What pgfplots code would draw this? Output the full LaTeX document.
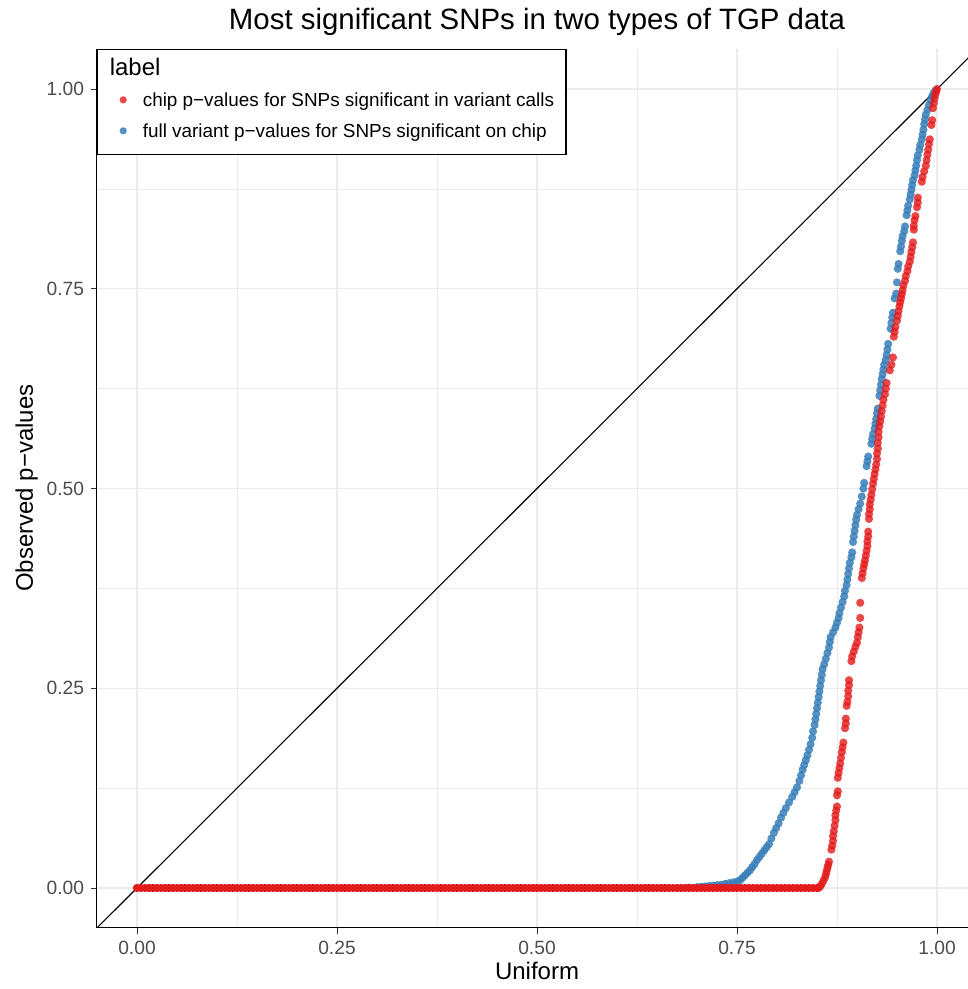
\documentclass[border=0pt]{standalone}
\usepackage{fontspec}
\setmainfont{Liberation Sans}
\usepackage{pgfplots}
\pgfplotsset{compat=1.18}
\definecolor{setred}{HTML}{E41A1C}
\definecolor{setblue}{HTML}{377EB8}
\definecolor{gridgray}{HTML}{EBEBEB}
\definecolor{tickgray}{HTML}{4D4D4D}
\definecolor{tickmark}{HTML}{333333}
\pgfplotsset{
  ggpt/.style={only marks, mark=*, mark size=2.05bp,
    legend image code/.code={\path (-6.5bp,0bp) (9.5bp,0bp); \draw[##1, mark size=1.8bp] plot coordinates {(0bp,1.2bp)};}},
}
\begin{document}
\begin{tikzpicture}
\begin{axis}[
  scale only axis, width=435.5bp, height=439.5bp,
  xmin=-0.05, xmax=1.03875, ymin=-0.05006, ymax=1.0501,
  axis x line*=bottom, axis y line*=left,
  axis line style={-, black, line width=0.5bp},
  xtick={0,0.25,0.5,0.75,1}, ytick={0,0.25,0.5,0.75,1},
  xticklabels={0.00,0.25,0.50,0.75,1.00},
  yticklabels={0.00,0.25,0.50,0.75,1.00},
  minor xtick={0.125,0.375,0.625,0.875},
  minor ytick={0.125,0.375,0.625,0.875},
  grid=both,
  major grid style={gridgray, line width=0.55bp},
  minor grid style={gridgray, line width=0.3bp},
  tick align=outside, major tick length=3bp, minor tick length=0pt,
  tick style={tickmark, line width=0.5bp},
  ticklabel style={font=\fontsize{9.6bp}{11bp}\selectfont, text=tickgray},
  /pgf/number format/assume math mode=true,
  every axis title shift=0pt,
  title={Most significant SNPs in two types of TGP data},
  title style={font=\fontsize{14.7bp}{17bp}\selectfont, anchor=base, at={(axis description cs:0.50517,1.02162)}},
  xlabel={Uniform},
  xlabel style={font=\fontsize{12bp}{14bp}\selectfont, anchor=base, at={(axis description cs:0.50517,-0.05916)}},
  ylabel={Observed p−values},
  ylabel style={font=\fontsize{12bp}{14bp}\selectfont, anchor=base, at={(axis description cs:-0.07348,0.50057)}},
  legend cell align=left,
  legend style={at={(axis description cs:0,1)}, anchor=north west, draw=black, line width=0.6bp, fill=white,
    inner xsep=6bp, inner ysep=3.075bp, row sep=0bp, column sep=0bp,
    font=\fontsize{9.45bp}{11bp}\selectfont, cells={anchor=west},
    nodes={inner sep=0bp, text height=9.925bp, text depth=5.575bp}},
  reverse legend,
]
% blue: full variant p-values (baseline part, mostly hidden)
\addplot[ggpt, forget plot, mark options={fill=setblue, draw opacity=0, fill opacity=0.85}] coordinates {
(0,0)(0.02,0)(0.04,0)(0.06,0)(0.08,0)(0.1,0)(0.12,0)(0.14,0)(0.16,0)(0.18,0)
(0.2,0)(0.22,0)(0.24,0)(0.26,0)(0.28,0)(0.3,0)(0.32,0)(0.34,0)(0.36,0)(0.38,0)
(0.4,0)(0.42,0)(0.44,0)(0.46,0)(0.48,0)(0.5,0)(0.52,0)(0.54,0)(0.56,0)(0.58,0)
(0.6,0)(0.62,0)(0.64,0)(0.66,0)(0.68,0)
};
\addplot[ggpt, mark options={fill=setblue, draw opacity=0, fill opacity=0.85}] coordinates {
(0.690,0.0005)(0.700,0.001)(0.705,0.0015)(0.710,0.002)(0.715,0.0025)(0.720,0.003)(0.725,0.0035)(0.730,0.004)
(0.735,0.005)(0.740,0.006)(0.745,0.007)(0.750,0.008)(0.754,0.010)(0.757,0.013)(0.760,0.016)(0.763,0.019)
(0.766,0.022)(0.769,0.026)(0.772,0.030)(0.775,0.035)(0.778,0.039)(0.781,0.043)(0.784,0.047)(0.787,0.051)
(0.790,0.055)(0.793,0.062)(0.796,0.069)(0.799,0.075)(0.802,0.081)(0.805,0.088)(0.808,0.094)(0.811,0.100)
(0.815,0.107)(0.819,0.114)(0.822,0.120)(0.825,0.126)(0.828,0.134)(0.830,0.141)(0.832,0.148)(0.834,0.154)
(0.836,0.160)(0.838,0.166)(0.840,0.173)(0.842,0.180)(0.844,0.188)(0.845,0.196)(0.847,0.204)(0.848,0.211)
(0.849,0.218)(0.850,0.225)(0.851,0.232)(0.852,0.239)(0.853,0.246)(0.854,0.253)(0.855,0.260)(0.856,0.267)
(0.857,0.274)(0.859,0.280)(0.861,0.287)(0.863,0.294)(0.865,0.301)(0.866,0.308)(0.867,0.314)(0.870,0.320)
(0.873,0.326)(0.875,0.332)(0.877,0.338)(0.878,0.344)(0.880,0.351)(0.882,0.358)(0.884,0.365)(0.885,0.372)
(0.887,0.379)(0.888,0.386)(0.889,0.393)(0.890,0.400)(0.891,0.407)(0.893,0.414)(0.894,0.420)
(0.895,0.433)(0.896,0.440)(0.897,0.447)(0.898,0.454)(0.899,0.461)(0.900,0.467)(0.902,0.474)(0.904,0.481)
(0.906,0.490)(0.908,0.500)(0.909,0.507)
(0.912,0.528)(0.913,0.534)(0.914,0.540)
(0.918,0.556)(0.919,0.562)(0.920,0.568)(0.922,0.575)(0.923,0.581)(0.924,0.587)(0.925,0.594)(0.926,0.600)
(0.928,0.616)(0.929,0.623)(0.930,0.630)(0.931,0.637)(0.932,0.643)(0.933,0.649)(0.934,0.655)(0.936,0.661)
(0.937,0.667)(0.938,0.674)(0.939,0.681)
(0.942,0.700)(0.943,0.707)(0.944,0.714)(0.945,0.720)
(0.947,0.738)(0.949,0.744)
(0.950,0.758)
(0.951,0.775)(0.952,0.781)
(0.954,0.797)(0.955,0.803)(0.956,0.810)(0.957,0.816)(0.959,0.822)(0.960,0.828)
(0.962,0.842)(0.963,0.848)(0.964,0.854)(0.966,0.862)(0.967,0.868)(0.968,0.874)(0.969,0.880)(0.970,0.886)
(0.972,0.892)(0.973,0.898)(0.974,0.904)(0.975,0.911)(0.976,0.917)(0.978,0.924)(0.979,0.930)(0.981,0.937)
(0.982,0.943)(0.983,0.949)(0.984,0.956)(0.985,0.962)(0.986,0.968)(0.988,0.974)(0.990,0.980)(0.992,0.986)
(0.994,0.991)(0.996,0.995)(0.998,0.998)
};
\addlegendentry{full variant p−values for SNPs significant on chip}
% red: chip p-values (dense baseline part)
\addplot[ggpt, forget plot, mark options={fill=setred, draw opacity=0, fill opacity=1}] coordinates {
(0,0)(0.005,0)(0.01,0)(0.015,0)(0.02,0)(0.025,0)(0.03,0)(0.035,0)(0.04,0)(0.045,0)
(0.05,0)(0.055,0)(0.06,0)(0.065,0)(0.07,0)(0.075,0)(0.08,0)(0.085,0)(0.09,0)(0.095,0)
(0.1,0)(0.105,0)(0.11,0)(0.115,0)(0.12,0)(0.125,0)(0.13,0)(0.135,0)(0.14,0)(0.145,0)
(0.15,0)(0.155,0)(0.16,0)(0.165,0)(0.17,0)(0.175,0)(0.18,0)(0.185,0)(0.19,0)(0.195,0)
(0.2,0)(0.205,0)(0.21,0)(0.215,0)(0.22,0)(0.225,0)(0.23,0)(0.235,0)(0.24,0)(0.245,0)
(0.25,0)(0.255,0)(0.26,0)(0.265,0)(0.27,0)(0.275,0)(0.28,0)(0.285,0)(0.29,0)(0.295,0)
(0.3,0)(0.305,0)(0.31,0)(0.315,0)(0.32,0)(0.325,0)(0.33,0)(0.335,0)(0.34,0)(0.345,0)
(0.35,0)(0.355,0)(0.36,0)(0.365,0)(0.37,0)(0.375,0)(0.38,0)(0.385,0)(0.39,0)(0.395,0)
(0.4,0)(0.405,0)(0.41,0)(0.415,0)(0.42,0)(0.425,0)(0.43,0)(0.435,0)(0.44,0)(0.445,0)
(0.45,0)(0.455,0)(0.46,0)(0.465,0)(0.47,0)(0.475,0)(0.48,0)(0.485,0)(0.49,0)(0.495,0)
(0.5,0)(0.505,0)(0.51,0)(0.515,0)(0.52,0)(0.525,0)(0.53,0)(0.535,0)(0.54,0)(0.545,0)
(0.55,0)(0.555,0)(0.56,0)(0.565,0)(0.57,0)(0.575,0)(0.58,0)(0.585,0)(0.59,0)(0.595,0)
(0.6,0)(0.605,0)(0.61,0)(0.615,0)(0.62,0)(0.625,0)(0.63,0)(0.635,0)(0.64,0)(0.645,0)
(0.65,0)(0.655,0)(0.66,0)(0.665,0)(0.67,0)(0.675,0)(0.68,0)(0.685,0)(0.69,0)(0.695,0)
(0.7,0)(0.705,0)(0.71,0)(0.715,0)(0.72,0)(0.725,0)(0.73,0)(0.735,0)(0.74,0)(0.745,0)
(0.75,0)(0.755,0)(0.76,0)(0.765,0)(0.77,0)(0.775,0)(0.78,0)(0.785,0)(0.79,0)(0.795,0)
(0.8,0)(0.805,0)(0.81,0)(0.815,0)(0.82,0)(0.825,0)(0.83,0)(0.835,0)(0.84,0)(0.845,0)
(0.85,0)
};
\addplot[ggpt, mark options={fill=setred, draw opacity=0, fill opacity=0.8}] coordinates {
(0.852,0.000)(0.854,0.002)(0.856,0.005)(0.858,0.009)(0.860,0.013)(0.861,0.017)(0.862,0.021)(0.863,0.025)
(0.864,0.029)(0.865,0.033)
(0.868,0.048)(0.869,0.053)(0.870,0.059)(0.870,0.065)(0.871,0.071)(0.872,0.078)(0.873,0.085)(0.873,0.091)
(0.874,0.097)(0.875,0.102)
(0.875,0.116)(0.876,0.121)
(0.876,0.138)(0.877,0.144)(0.878,0.150)(0.879,0.156)(0.880,0.163)(0.881,0.170)(0.882,0.176)(0.883,0.182)
(0.885,0.200)(0.886,0.206)(0.886,0.212)
(0.887,0.228)(0.888,0.233)(0.889,0.240)(0.889,0.247)(0.890,0.254)(0.890,0.260)
(0.893,0.284)(0.894,0.290)(0.896,0.296)(0.898,0.302)(0.900,0.307)(0.901,0.314)(0.902,0.320)(0.903,0.326)
(0.904,0.338)
(0.904,0.357)
(0.906,0.388)(0.907,0.394)(0.908,0.400)(0.909,0.405)(0.910,0.410)(0.911,0.416)(0.912,0.422)(0.913,0.428)
(0.913,0.434)(0.914,0.440)(0.914,0.446)
(0.915,0.462)(0.915,0.468)(0.916,0.474)(0.916,0.480)(0.917,0.486)(0.918,0.492)(0.919,0.499)(0.920,0.506)
(0.921,0.512)(0.922,0.518)(0.923,0.524)(0.924,0.530)(0.925,0.537)(0.925,0.544)(0.926,0.550)(0.926,0.557)
(0.927,0.564)(0.927,0.571)(0.928,0.578)(0.929,0.584)(0.930,0.590)(0.931,0.597)(0.932,0.604)(0.933,0.611)
(0.935,0.618)(0.936,0.625)(0.937,0.632)
(0.941,0.648)(0.943,0.655)(0.945,0.664)
(0.946,0.690)(0.947,0.696)(0.948,0.702)(0.950,0.710)(0.951,0.716)(0.952,0.722)(0.953,0.728)(0.954,0.733)
(0.955,0.738)(0.956,0.743)(0.957,0.748)(0.958,0.754)(0.960,0.760)(0.961,0.766)(0.963,0.772)(0.964,0.778)
(0.966,0.784)(0.967,0.790)(0.968,0.796)(0.969,0.802)(0.970,0.808)
(0.971,0.824)(0.971,0.829)(0.972,0.836)(0.973,0.841)
(0.975,0.852)(0.976,0.858)(0.976,0.864)
(0.981,0.884)(0.982,0.890)(0.984,0.897)(0.986,0.904)(0.987,0.911)(0.988,0.918)(0.989,0.924)(0.990,0.931)
(0.991,0.937)
(0.993,0.955)(0.994,0.961)
(0.995,0.976)(0.996,0.982)(0.997,0.988)(0.998,0.993)(0.999,0.997)(1.000,1.000)
};
\addlegendentry{chip p−values for SNPs significant in variant calls}
% reference line y = x
\addplot[black, line width=0.55bp, forget plot] coordinates {(-0.2,-0.2) (1.2,1.2)};
\addlegendimage{empty legend}
\addlegendentry{\hspace*{-16.5bp}{\fontsize{12bp}{14bp}\selectfont label}}
\end{axis}
\pgfresetboundingbox
\path[use as bounding box] (-48.5bp,-30.5bp) rectangle (435.5bp,464bp);
\end{tikzpicture}
\end{document}
